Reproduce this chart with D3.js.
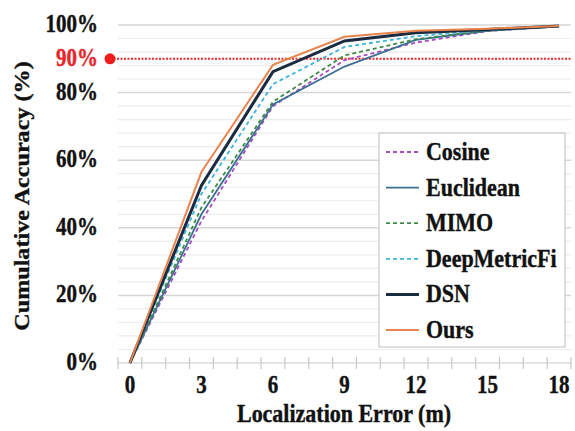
<!DOCTYPE html>
<html>
<head>
<meta charset="utf-8">
<script src="https://cdn.jsdelivr.net/npm/d3@7"></script>
<style>
  body { margin: 0; background: #fff; }
  text { font-family: "Liberation Serif", "Times New Roman", serif; font-weight: bold; stroke-width: 0.35px; }
</style>
</head>
<body>
<svg id="chart" width="575" height="431"></svg>
<script>
"use strict";

// localization error (m), one point every 3 m
var errors = [0, 3, 6, 9, 12, 15, 18];

var seriesNames = ["Cosine", "Euclidean", "MIMO", "DeepMetricFi", "DSN", "Ours"];

// cumulative accuracy (%)
var cosine       = [0, 42, 76, 89.6, 94.8, 98.2, 99.6];
var euclidean    = [0, 44, 76.5, 87.7, 95.6, 98.3, 99.6];
var mimo         = [0, 46, 77.3, 91, 95.8, 98.4, 99.6];
var deepMetricFi = [0, 50, 82.5, 93.5, 96.7, 98.5, 99.6];
var dsn          = [0, 52.5, 86.2, 95.3, 97.7, 98.7, 99.7];
var ours         = [0, 56.5, 88.2, 96.5, 98.3, 98.9, 99.7];

var yTicks = [0, 20, 40, 60, 80, 100];
var xLabels = [0, 3, 6, 9, 12, 15, 18];
var threshold = 90;

var styles = {
  "Cosine":       { color: "#a64dc0", width: 1.8, dash: "4,3" },
  "Euclidean":    { color: "#3a6f92", width: 1.8, dash: null },
  "MIMO":         { color: "#3f8a45", width: 1.8, dash: "4,3" },
  "DeepMetricFi": { color: "#3cb4dc", width: 1.8, dash: "4,3" },
  "DSN":          { color: "#1b2b40", width: 3,   dash: null },
  "Ours":         { color: "#e8844e", width: 2,   dash: null }
};

var allValues = [cosine, euclidean, mimo, deepMetricFi, dsn, ours];

var svg = d3.select("#chart");

// category axis: 0..18, tick marks between categories
var x = d3.scaleLinear().domain([-0.5, 18.5]).range([118, 571]);
var y = d3.scaleLinear().domain([0, 100]).range([363, 25]);

// minor gridlines every 4 %
var grid = svg.append("g");
grid.selectAll("line.minor")
  .data(d3.range(4, 100, 4).filter(function (v) { return v % 20 !== 0; }))
  .enter().append("line")
  .attr("class", "minor")
  .attr("x1", x(-0.5)).attr("x2", x(18.5))
  .attr("y1", function (d) { return y(d); })
  .attr("y2", function (d) { return y(d); })
  .style("stroke", "#ececec").style("stroke-width", 1.2);
grid.selectAll("line.major")
  .data(yTicks.filter(function (v) { return v > 0; }))
  .enter().append("line")
  .attr("class", "major")
  .attr("x1", x(-0.5)).attr("x2", x(18.5))
  .attr("y1", function (d) { return y(d); })
  .attr("y2", function (d) { return y(d); })
  .style("stroke", "#d6d6d6").style("stroke-width", 1.5);

// x axis line with crossing tick marks
var xAxis = svg.append("g");
xAxis.append("line")
  .attr("x1", x(-0.5)).attr("x2", x(18.5))
  .attr("y1", y(0)).attr("y2", y(0))
  .style("stroke", "#c8c8c8").style("stroke-width", 1.2);
xAxis.selectAll("line.tick")
  .data(d3.range(-0.5, 19, 1))
  .enter().append("line")
  .attr("class", "tick")
  .attr("x1", function (d) { return x(d); })
  .attr("x2", function (d) { return x(d); })
  .attr("y1", y(0) - 6).attr("y2", y(0) + 6)
  .style("stroke", "#c8c8c8").style("stroke-width", 1.2);
xAxis.selectAll("text")
  .data(xLabels)
  .enter().append("text")
  .attr("transform", function (d) { return "translate(" + x(d) + ",393) scale(1,1.15)"; })
  .attr("text-anchor", "middle")
  .style("font-size", "21px")
  .style("fill", "#111").style("stroke", "#111")
  .text(function (d) { return d; });

// y tick labels
svg.append("g").selectAll("text")
  .data(yTicks.concat([threshold]))
  .enter().append("text")
  .attr("transform", function (d) { return "translate(98," + (y(d) + 7) + ") scale(1,1.15)"; })
  .attr("text-anchor", "end")
  .style("font-size", "21px")
  .style("fill", function (d) { return d === threshold ? "#e8262b" : "#111"; })
  .style("stroke", function (d) { return d === threshold ? "#e8262b" : "#111"; })
  .text(function (d) { return d + "%"; });

// 90% reference line
svg.append("line")
  .attr("x1", 110).attr("x2", x(18.5))
  .attr("y1", y(threshold)).attr("y2", y(threshold))
  .style("stroke", "#ee2a2a").style("stroke-width", 2)
  .style("stroke-dasharray", "2,1.5");
svg.append("circle")
  .attr("cx", 110).attr("cy", y(threshold)).attr("r", 5.5)
  .style("fill", "#ee1c1c");

// series lines
var line = d3.line()
  .x(function (d, i) { return x(errors[i]); })
  .y(function (d) { return y(d); });

seriesNames.forEach(function (name, k) {
  var s = styles[name];
  svg.append("path")
    .datum(allValues[k])
    .attr("d", line)
    .style("fill", "none")
    .style("stroke", s.color)
    .style("stroke-width", s.width)
    .style("stroke-dasharray", s.dash);
});

// legend
var legend = svg.append("g");
legend.append("rect")
  .attr("x", 379).attr("y", 133)
  .attr("width", 186).attr("height", 214)
  .style("fill", "#fff").style("stroke", "#c8c8c8").style("stroke-width", 1.2);
seriesNames.forEach(function (name, k) {
  var s = styles[name];
  var ly = 152 + k * 35.6;
  legend.append("line")
    .attr("x1", 386).attr("x2", 419)
    .attr("y1", ly).attr("y2", ly)
    .style("stroke", s.color)
    .style("stroke-width", s.width)
    .style("stroke-dasharray", s.dash);
  legend.append("text")
    .attr("transform", "translate(426," + (ly + 8) + ") scale(1,1.15)")
    .style("font-size", "22px")
    .style("fill", "#111").style("stroke", "#111")
    .text(name);
});

// axis titles
svg.append("text")
  .attr("transform", "translate(344,422) scale(1,1.15)")
  .attr("text-anchor", "middle")
  .style("font-size", "22px")
  .style("fill", "#111").style("stroke", "#111")
  .text("Localization Error (m)");

svg.append("text")
  .attr("transform", "translate(29,196) rotate(-90) scale(1.15,1)")
  .attr("text-anchor", "middle")
  .style("font-size", "21px")
  .style("fill", "#111").style("stroke", "#111")
  .text("Cumulative Accuracy (%)");
</script>
</body>
</html>
